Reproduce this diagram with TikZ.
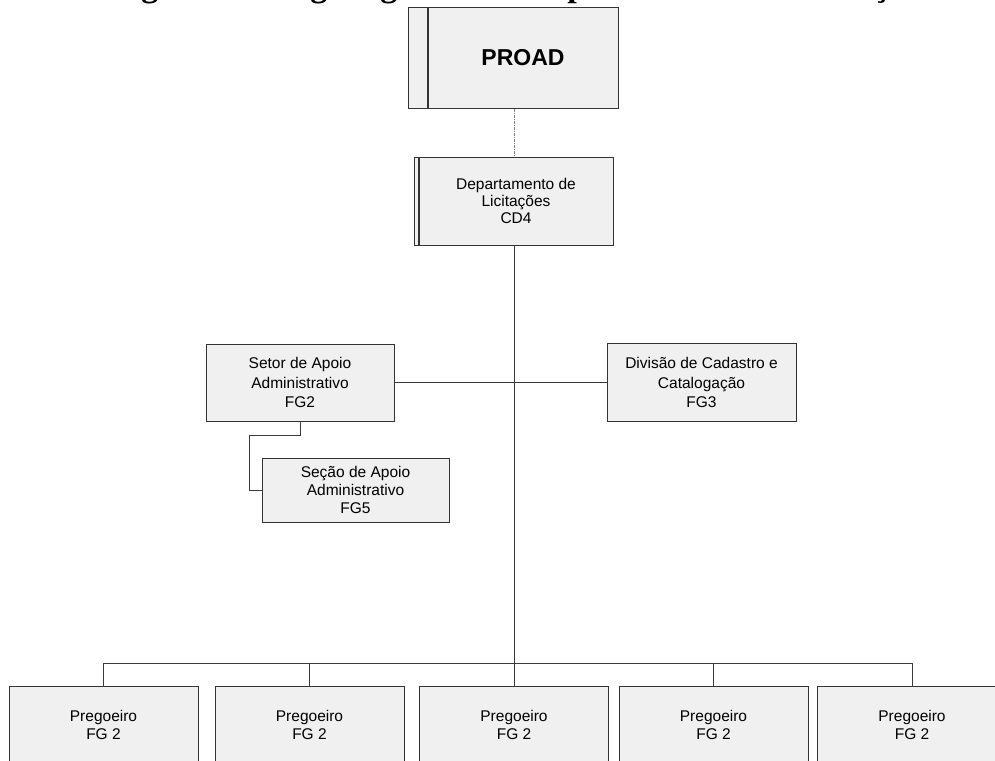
\documentclass[tikz,border=0pt]{standalone}
\usepackage{fontspec}
\setmainfont{Liberation Sans}
\newfontfamily\captionserif{Liberation Serif}
\newcommand\boxfont[1]{\fontsize{15.5}{#1}\selectfont}
\definecolor{boxfill}{HTML}{F0F0F0}
\definecolor{boxline}{HTML}{333333}
\definecolor{linkcol}{HTML}{3A3A3A}
\begin{document}
\begin{tikzpicture}[x=1pt, y=-1pt,
  box/.style={draw=boxline, fill=boxfill, line width=1pt, inner sep=0pt,
    align=center, rectangle},
  strip/.style={draw=boxline, fill=boxfill, line width=1pt},
  link/.style={draw=linkcol, line width=1pt},
  dotlink/.style={draw=gray, line width=1pt,
    dash pattern=on 3pt off 1pt on 1pt off 1pt}]
\useasboundingbox (0,0) rectangle (995,760);
\clip (0,0) rectangle (995,760);

% caption running off the top edge
\node[anchor=base west, inner sep=0pt,
  font=\captionserif\bfseries\fontsize{34}{40}\selectfont] (caption)
  at (111,-3) {Figura 1 – Organograma do Departamento de Licitações};

% PROAD, with its left strip
\node[box, minimum width=190pt, minimum height=100pt,
  font=\bfseries\fontsize{23}{28}\selectfont] (proad) at (523,58) {PROAD};
\draw[strip] (408,8) rectangle (proad.south west);

% department, with its left strip
\node[box, minimum width=194pt, minimum height=88pt, font=\boxfont{16.7}]
  (dept) at (516,201) {Departamento de\\Licitações\\CD4};
\draw[strip] (414,157) rectangle (dept.south west);

\coordinate (trunk) at (514,0);
\coordinate (bus) at (0,663);
\coordinate (elbow) at (249,435);

% middle level
\node[box, minimum width=188pt, minimum height=77pt, font=\boxfont{19.5}]
  (setor) at (300,382.5) {Setor de Apoio\\Administrativo\\FG2};
\node[box, minimum width=189pt, minimum height=78pt, font=\boxfont{19.5}]
  (divisao) at (701.5,382.5) {Divisão de Cadastro e\\Catalogação\\FG3};
\node[box, minimum width=187pt, minimum height=64pt, font=\boxfont{18}]
  (secao) at (355.5,490) {Seção de Apoio\\Administrativo\\FG5};

% bottom row
\foreach \n/\cx in {p1/103.5, p2/309.5, p3/514, p4/713.5, p5/912}{
  \node[box, minimum width=189pt, minimum height=78pt, font=\boxfont{18}]
    (\n) at (\cx,725) {Pregoeiro\\FG 2};
}

% connectors
\draw[dotlink] (proad.south -| trunk) -- (dept.north -| trunk);
\draw[link] (dept.south -| trunk) -- (p3.north);
\draw[link] (setor.east) -- (divisao.west);
\draw[link] (setor.south) |- (elbow) |- (secao.west);
\draw[link] (p1.north) -- (p1.north |- bus) -- (p5.north |- bus) -- (p5.north);
\draw[link] (p2.north) -- (p2.north |- bus);
\draw[link] (p4.north) -- (p4.north |- bus);
\end{tikzpicture}
\end{document}
